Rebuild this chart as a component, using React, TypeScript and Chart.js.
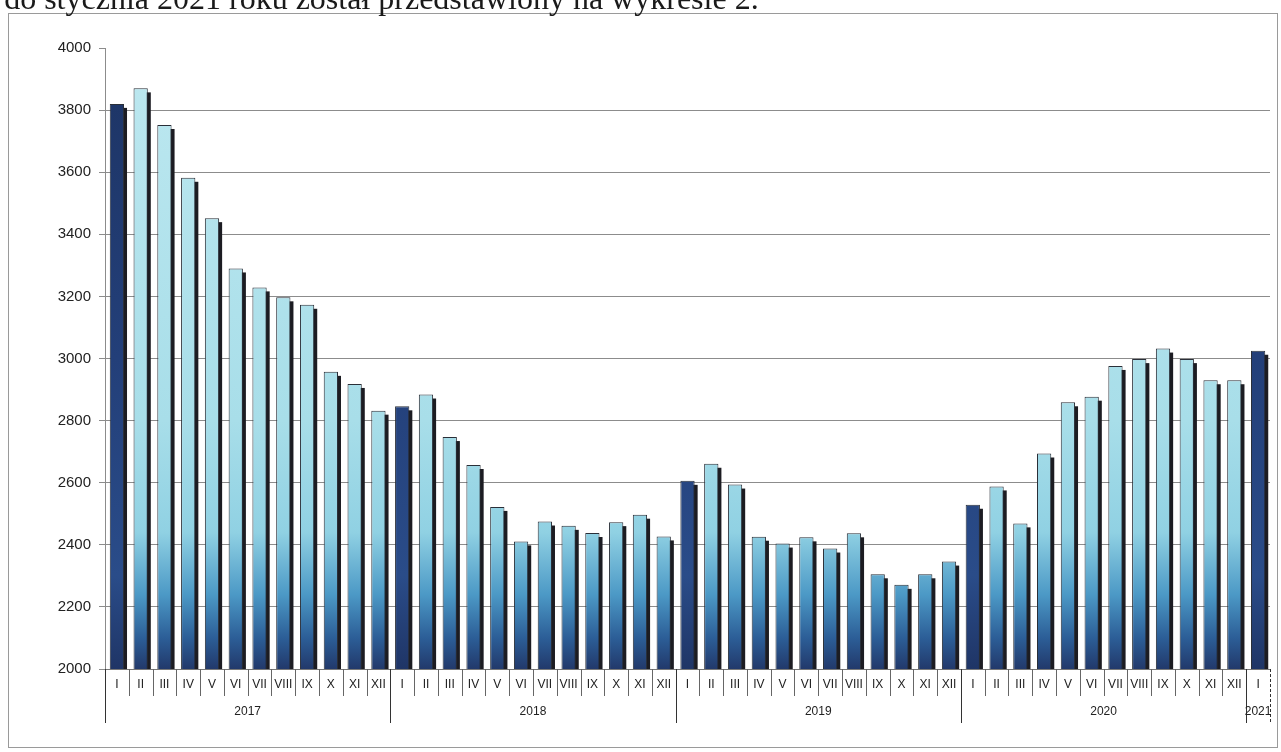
import React, { useEffect, useRef } from "react";
import { Chart, registerables } from "chart.js";

Chart.register(...registerables);

const MONTHS = ["I", "II", "III", "IV", "V", "VI", "VII", "VIII", "IX", "X", "XI", "XII"];
const YEARS = ["2017", "2018", "2019", "2020", "2021"];
const YEAR_COUNTS = [12, 12, 12, 12, 1];

const V2017 = [3820, 3870, 3752, 3582, 3452, 3290, 3229, 3197, 3173, 2957, 2918, 2832];
const V2018 = [2846, 2884, 2747, 2657, 2522, 2411, 2475, 2461, 2438, 2473, 2497, 2427];
const V2019 = [2606, 2661, 2594, 2426, 2404, 2424, 2388, 2437, 2305, 2271, 2305, 2346];
const V2020 = [2529, 2588, 2469, 2694, 2859, 2877, 2976, 2998, 3032, 2998, 2930, 2930];
const V2021 = [3025];

const Y_MIN = 2000;
const Y_MAX = 4000;
const Y_STEP = 200;

const VALUES = [...V2017, ...V2018, ...V2019, ...V2020, ...V2021];
const CATEGORIES = YEARS.flatMap((_, i) => MONTHS.slice(0, YEAR_COUNTS[i]));

const FONT = "'Liberation Sans', Arial, sans-serif";

const LIGHT_STOPS: [number, string][] = [
  [0, "#bde8f0"],
  [0.6, "#a8dee9"],
  [0.78, "#90d1e3"],
  [0.88, "#4c99c6"],
  [0.95, "#2c5e97"],
  [1, "#22396b"],
];
const DARK_STOPS: [number, string][] = [
  [0, "#1d3464"],
  [0.5, "#233f79"],
  [0.85, "#2a4c89"],
  [1, "#1f3566"],
];

function makeGradient(chart: any, stops: [number, string][]) {
  const { ctx, chartArea } = chart;
  if (!chartArea) return stops[0][1];
  const g = ctx.createLinearGradient(0, chartArea.top, 0, chartArea.bottom);
  stops.forEach(([o, c]) => g.addColorStop(o, c));
  return g;
}

const framePlugin = {
  id: "frame",
  beforeDraw(chart: any) {
    const ctx = chart.ctx;
    ctx.save();
    ctx.fillStyle = "#ffffff";
    ctx.fillRect(0, 0, chart.width, chart.height);
    ctx.strokeStyle = "#9a9a9a";
    ctx.lineWidth = 1;
    ctx.strokeRect(8.5, 13.5, 1269, 734);
    ctx.restore();
  },
};

const shadowPlugin = {
  id: "barShadow",
  beforeDatasetsDraw(chart: any) {
    const ctx = chart.ctx;
    const area = chart.chartArea;
    ctx.save();
    ctx.beginPath();
    ctx.rect(area.left, area.top, area.right - area.left, area.bottom - area.top);
    ctx.clip();
    ctx.fillStyle = "#1c1c22";
    chart.getDatasetMeta(0).data.forEach((bar: any) => {
      const { x, y, base, width } = bar.getProps(["x", "y", "base", "width"], true);
      ctx.fillRect(x - width / 2 + 3, y + 4, width, base - y);
    });
    ctx.restore();
  },
};

const groupAxisPlugin = {
  id: "groupAxis",
  afterDraw(chart: any) {
    const ctx = chart.ctx;
    const xs = chart.scales.x;
    const bottom = chart.chartArea.bottom;
    const n = CATEGORIES.length;
    const half = n > 1 ? (xs.getPixelForValue(1) - xs.getPixelForValue(0)) / 2 : 10;
    const yearStarts: number[] = [];
    let acc = 0;
    YEAR_COUNTS.forEach((c) => {
      yearStarts.push(acc);
      acc += c;
    });
    ctx.save();
    ctx.lineWidth = 1;
    for (let i = 0; i <= n; i++) {
      const x = Math.round(i < n ? xs.getPixelForValue(i) - half : xs.getPixelForValue(n - 1) + half) + 0.5;
      const isYear = yearStarts.includes(i) || i === n;
      ctx.strokeStyle = isYear ? "#333333" : "#666666";
      if (i === n) ctx.setLineDash([3, 2]);
      else ctx.setLineDash([]);
      ctx.beginPath();
      ctx.moveTo(x, bottom);
      ctx.lineTo(x, bottom + (isYear ? 54 : 27));
      ctx.stroke();
    }
    ctx.setLineDash([]);
    ctx.fillStyle = "#222222";
    ctx.font = `12px ${FONT}`;
    ctx.textAlign = "center";
    ctx.textBaseline = "middle";
    YEARS.forEach((y, k) => {
      const s = yearStarts[k];
      const e = s + YEAR_COUNTS[k] - 1;
      const cx = (xs.getPixelForValue(s) + xs.getPixelForValue(e)) / 2;
      ctx.fillText(y, cx, bottom + 43);
    });
    ctx.restore();
  },
};

export default function App() {
  const ref = useRef<HTMLCanvasElement | null>(null);

  useEffect(() => {
    if (!ref.current) return;
    const chart = new Chart(ref.current, {
      type: "bar",
      data: {
        labels: CATEGORIES,
        datasets: [
          {
            data: VALUES,
            backgroundColor: (c: any) =>
              makeGradient(c.chart, CATEGORIES[c.dataIndex] === "I" ? DARK_STOPS : LIGHT_STOPS),
            borderColor: "#2a2f38",
            borderWidth: 1,
            barPercentage: 0.6,
            categoryPercentage: 1,
          },
        ],
      },
      options: {
        responsive: false,
        animation: false,
        devicePixelRatio: 1,
        layout: { padding: { top: 48, right: 11, left: 0, bottom: 0 } },
        plugins: { legend: { display: false }, tooltip: { enabled: false } },
        scales: {
          x: {
            type: "category",
            grid: { display: false, offset: true, drawTicks: false },
            border: { display: true, color: "#777777" },
            ticks: {
              autoSkip: false,
              maxRotation: 0,
              minRotation: 0,
              color: "#222222",
              font: { family: FONT, size: 12 },
              padding: 8,
            },
            afterFit: (s: any) => {
              s.height = 83;
            },
          },
          y: {
            min: Y_MIN,
            max: Y_MAX,
            ticks: {
              stepSize: Y_STEP,
              color: "#222222",
              font: { family: FONT, size: 15 },
              padding: 8,
              callback: (v: any) => String(v),
            },
            grid: {
              color: (c: any) => (c.tick && c.tick.value === Y_MAX ? "rgba(0,0,0,0)" : "#8c8c8c"),
              tickColor: "#8c8c8c",
              tickLength: 6,
              lineWidth: 1,
            },
            border: { display: true, color: "#8c8c8c" },
            afterFit: (s: any) => {
              s.width = 105;
            },
          },
        },
      },
      plugins: [framePlugin, shadowPlugin, groupAxisPlugin],
    });
    return () => chart.destroy();
  }, []);

  const textStyle: React.CSSProperties = {
    position: "absolute",
    top: -18,
    fontFamily: "'Liberation Serif', 'Times New Roman', serif",
    fontSize: 32,
    lineHeight: "32px",
    whiteSpace: "pre",
    color: "#1a1a1a",
  };

  return (
    <div style={{ position: "fixed", left: 0, top: 0, width: 1281, height: 752, overflow: "hidden", background: "#fff" }}>
      <canvas ref={ref} width={1281} height={752} style={{ position: "absolute", left: 0, top: 0 }} />
      <span style={{ ...textStyle, right: 1281 - 157, textAlign: "right" }}>{"do stycznia "}</span>
      <span style={{ ...textStyle, left: 157 }}>{"2021 roku został przedstawiony na wykresie 2."}</span>
    </div>
  );
}
